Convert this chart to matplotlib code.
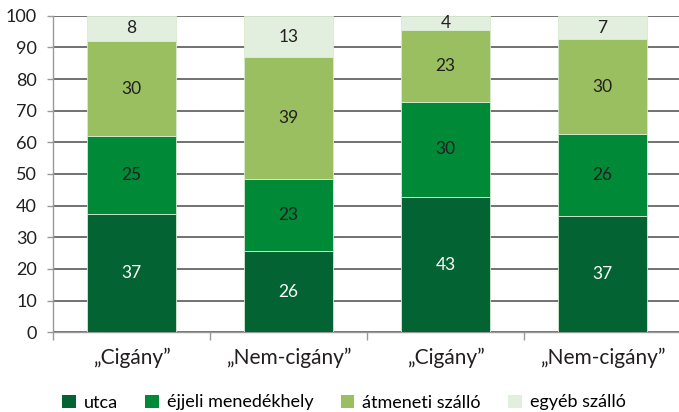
import matplotlib
matplotlib.use("Agg")
import matplotlib.pyplot as plt
import numpy as np
from matplotlib.patches import Patch

categories = ["„Cigány”", "„Nem-cigány”", "„Cigány”", "„Nem-cigány”"]
series_names = ["utca", "éjjeli menedékhely", "átmeneti szálló", "egyéb szálló"]
utca = [37.3, 25.7, 42.8, 36.8]
ejjeli = [24.6, 22.6, 30.0, 25.9]
atmeneti = [30.1, 38.5, 22.7, 29.8]
egyeb = [8.0, 13.2, 4.5, 7.5]
utca_labels = ["37", "26", "43", "37"]
ejjeli_labels = ["25", "23", "30", "26"]
atmeneti_labels = ["30", "39", "23", "30"]
egyeb_labels = ["8", "13", "4", "7"]
y_ticks = [0, 10, 20, 30, 40, 50, 60, 70, 80, 90, 100]

colors = ["#046333", "#008a38", "#9abf60", "#e2efdf"]
label_colors = ["white", "#231f20", "#231f20", "#231f20"]

plt.rcParams['font.family'] = ['Lato', 'DejaVu Sans']

fig = plt.figure(figsize=(6.79, 4.12), dpi=100)
ax = fig.add_axes([53/679, 1-332.3/412, 628/679, (332.3-15.7)/412])

x = np.arange(len(categories))
series = [utca, ejjeli, atmeneti, egyeb]
labels = [utca_labels, ejjeli_labels, atmeneti_labels, egyeb_labels]
bottom = np.zeros(len(categories))
for vals, labs, col, lcol, name in zip(series, labels, colors, label_colors, series_names):
    vals = np.array(vals)
    ax.bar(x, vals, width=0.57, bottom=bottom, color=col,
           edgecolor="#d8ead2", linewidth=0.6, label=name, zorder=3)
    for xi, b, v, t in zip(x, bottom, vals, labs):
        ax.text(xi, b + v/2, t, ha="center", va="center", color=lcol,
                fontsize=12.5, zorder=4)
    bottom += vals

ax.set_xlim(-0.5, 3.5)
ax.set_ylim(0, 100)
ax.set_yticks(y_ticks)
ax.set_yticklabels([str(v) for v in y_ticks], fontsize=13, color="#231f20")
ax.yaxis.grid(True, color="#4a4a4a", linewidth=1.1, zorder=0)
ax.set_axisbelow(True)

ax.set_xticks(x)
ax.set_xticklabels(categories, fontsize=15, color="#231f20")
ax.tick_params(axis="x", length=0, pad=11)
ax.set_xticks(np.arange(-0.5, 4.0, 1.0), minor=True)
ax.tick_params(axis="x", which="minor", length=6, color="#999999", width=1)
ax.tick_params(axis="y", length=4.5, color="#999999", width=1, pad=7)

for s in ["top", "right"]:
    ax.spines[s].set_visible(False)
ax.spines["left"].set_color("#999999")
ax.spines["bottom"].set_color("#999999")
ax.spines["left"].set_linewidth(1)
ax.spines["bottom"].set_linewidth(1)

handles = [Patch(facecolor=c, edgecolor="none") for c in colors]
fig.legend(handles, series_names, loc="center", bbox_to_anchor=(344/679, 1-402.5/412),
           ncol=4, frameon=False, fontsize=13, handlelength=0.75, handleheight=0.75,
           columnspacing=1.5, handletextpad=0.45)

fig.savefig("out.png", dpi=100)
